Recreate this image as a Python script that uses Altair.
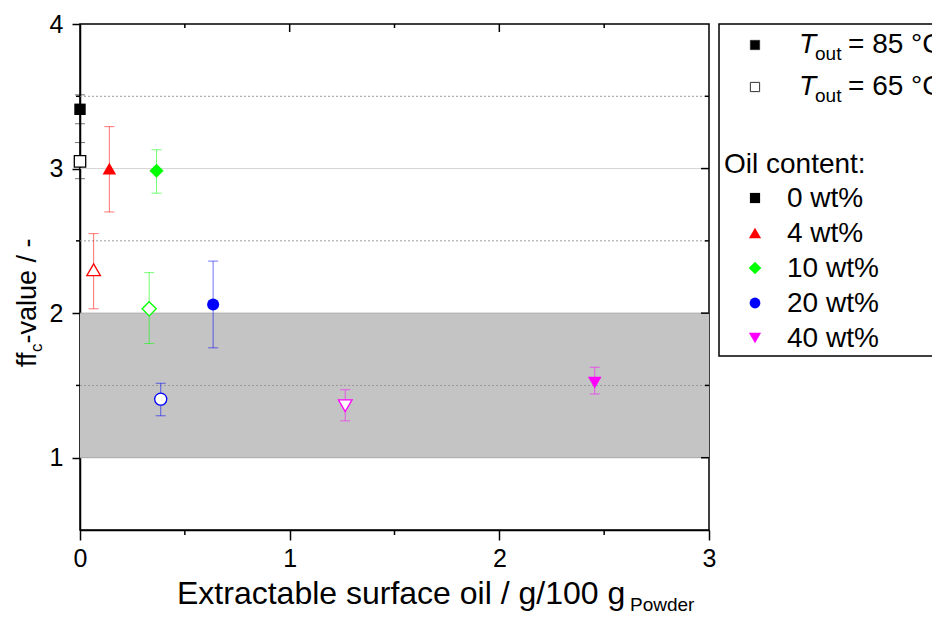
import altair as alt
import pandas as pd

# ---------------- data ----------------
oil_levels = ["0 wt%", "4 wt%", "10 wt%", "20 wt%", "40 wt%"]
oil_colors = ["#000000", "#ff0000", "#00ff00", "#0000ff", "#ff00ff"]
oil_shapes = ["square", "triangle-up", "diamond", "circle", "triangle-down"]
oil_sizes = [130, 185, 200, 145, 185]

sample_oil = ["0 wt%", "0 wt%", "4 wt%", "4 wt%", "10 wt%", "10 wt%",
              "20 wt%", "20 wt%", "40 wt%", "40 wt%"]
sample_tout = ["85", "65", "85", "65", "85", "65", "85", "65", "85", "65"]
surface_oil = [0.0, 0.0, 0.14, 0.065, 0.365, 0.33, 0.635, 0.385, 2.455, 1.265]
ffc = [3.41, 3.05, 3.0, 2.30, 2.985, 2.03, 2.06, 1.405, 1.52, 1.36]
ffc_low = [3.31, 2.93, 2.70, 2.03, 2.83, 1.79, 1.76, 1.29, 1.44, 1.255]
ffc_high = [3.51, 3.18, 3.29, 2.55, 3.13, 2.28, 2.36, 1.515, 1.625, 1.47]

tout_labels = ["85", "65"]
x_ticks = [0, 1, 2, 3]
x_minor = [0.5, 1.5, 2.5]
x_inner_major = [1, 2]
y_ticks = [1, 2, 3, 4]
y_minor = [1.5, 2.5, 3.5]
y_inner_major = [1, 2, 3]
band_range = [1, 2]
grid_solid = [3]
grid_dotted = [1.5, 2.5, 3.5]

W, H = 629, 506
FONT = "Liberation Sans"

df = pd.DataFrame({"oil": sample_oil, "tout": sample_tout, "x": surface_oil,
                   "y": ffc, "lo": ffc_low, "hi": ffc_high})

X_SCALE = alt.Scale(domain=[0, 3], nice=False, zero=False)
Y_SCALE = alt.Scale(domain=[0.5, 4], nice=False, zero=False)
X_AXIS = alt.Axis(values=x_ticks, title=None, grid=False, tickSize=10, labelPadding=6,
                  format="d", labelFlush=False, labelOverlap=False)
Y_AXIS = alt.Axis(values=y_ticks, title=None, grid=False, tickSize=8, labelPadding=9,
                  format="d", labelFlush=False, labelOverlap=False)


def XF(f):
    return alt.X(f, type="quantitative", scale=X_SCALE, axis=X_AXIS)


def YF(f):
    return alt.Y(f, type="quantitative", scale=Y_SCALE, axis=Y_AXIS)


COLOR = alt.Color("oil:N", scale=alt.Scale(domain=oil_levels, range=oil_colors), legend=None)
SHAPE = alt.Shape("oil:N", scale=alt.Scale(domain=oil_levels, range=oil_shapes), legend=None)
SIZE = alt.Size("oil:O", scale=alt.Scale(type="ordinal", domain=oil_levels, range=oil_sizes), legend=None)

one = pd.DataFrame({"a": [0]})
layers = []

# grey band
band_df = pd.DataFrame({"lo": [band_range[0]], "hi": [band_range[1]]})
layers.append(alt.Chart(band_df).mark_rect(color="#c4c4c4").encode(
    x=alt.value(0), x2=alt.value(W), y=YF("lo"), y2=alt.Y2("hi")))

# grid lines
layers.append(alt.Chart(pd.DataFrame({"v": grid_solid})).mark_rule(color="#d4d4d4", strokeWidth=1).encode(
    x=alt.value(0), x2=alt.value(W), y=YF("v")))
layers.append(alt.Chart(pd.DataFrame({"v": band_range})).mark_rule(color="#a8a8a8", strokeWidth=1).encode(
    x=alt.value(0), x2=alt.value(W), y=YF("v")))
layers.append(alt.Chart(pd.DataFrame({"v": grid_dotted})).mark_rule(color="#9a9a9a", strokeWidth=1, strokeDash=[2, 2]).encode(
    x=alt.value(0), x2=alt.value(W), y=YF("v")))

# manual minor / mirrored ticks
TK = dict(color="black", strokeWidth=1.5)
layers.append(alt.Chart(pd.DataFrame({"v": y_minor})).mark_rule(**TK).encode(
    x=alt.value(-4), x2=alt.value(0), y=YF("v")))
layers.append(alt.Chart(pd.DataFrame({"v": y_minor})).mark_rule(**TK).encode(
    x=alt.value(W - 4), x2=alt.value(W), y=YF("v")))
layers.append(alt.Chart(pd.DataFrame({"v": y_inner_major})).mark_rule(**TK).encode(
    x=alt.value(W - 8), x2=alt.value(W), y=YF("v")))
layers.append(alt.Chart(pd.DataFrame({"v": x_minor})).mark_rule(**TK).encode(
    y=alt.value(H), y2=alt.value(H + 5), x=XF("v")))
layers.append(alt.Chart(pd.DataFrame({"v": x_minor})).mark_rule(**TK).encode(
    y=alt.value(0), y2=alt.value(4), x=XF("v")))
layers.append(alt.Chart(pd.DataFrame({"v": x_inner_major})).mark_rule(**TK).encode(
    y=alt.value(0), y2=alt.value(8), x=XF("v")))

# error bars
layers.append(alt.Chart(df).mark_rule(strokeWidth=1, opacity=0.55).encode(
    x=XF("x"), y=YF("lo"), y2=alt.Y2("hi"), color=COLOR))
layers.append(alt.Chart(df).mark_tick(orient="horizontal", size=10, thickness=1, opacity=0.55).encode(
    x=XF("x"), y=YF("lo"), color=COLOR))
layers.append(alt.Chart(df).mark_tick(orient="horizontal", size=10, thickness=1, opacity=0.55).encode(
    x=XF("x"), y=YF("hi"), color=COLOR))

# points
layers.append(alt.Chart(df).transform_filter(alt.datum.tout == "85").mark_point(
    filled=True, opacity=1).encode(x=XF("x"), y=YF("y"), color=COLOR, shape=SHAPE, size=SIZE))
layers.append(alt.Chart(df).transform_filter(alt.datum.tout == "65").mark_point(
    filled=False, fill="white", fillOpacity=1, opacity=1, strokeWidth=1.3).encode(
    x=XF("x"), y=YF("y"), color=COLOR, shape=SHAPE, size=SIZE))

# axis titles (with subscripts)
TXT = dict(font=FONT, color="black")
layers.append(alt.Chart(one).mark_text(text="ff", fontSize=27, angle=270, align="left", baseline="alphabetic", **TXT).encode(
    x=alt.value(-44), y=alt.value(343)))
layers.append(alt.Chart(one).mark_text(text="c", fontSize=17, angle=270, align="left", baseline="alphabetic", **TXT).encode(
    x=alt.value(-38), y=alt.value(328)))
layers.append(alt.Chart(one).mark_text(text="-value / -", fontSize=27, angle=270, align="left", baseline="alphabetic", **TXT).encode(
    x=alt.value(-44), y=alt.value(319.5)))
layers.append(alt.Chart(one).mark_text(text="Extractable surface oil / g/100 g", fontSize=32, align="left", baseline="alphabetic", **TXT).encode(
    x=alt.value(97), y=alt.value(580)))
layers.append(alt.Chart(one).mark_text(text="Powder", fontSize=19, align="left", baseline="alphabetic", **TXT).encode(
    x=alt.value(550), y=alt.value(587)))

# legend box
LX = 639
layers.append(alt.Chart(one).mark_rect(fill="white", stroke="black", strokeWidth=1.5).encode(
    x=alt.value(LX), x2=alt.value(LX + 300), y=alt.value(0), y2=alt.value(332)))

# legend: temperature rows
for i, t in enumerate(tout_labels):
    yc = 21 + 42 * i
    filled = (i == 0)
    layers.append(alt.Chart(one).mark_point(
        shape="square", size=85, filled=True, opacity=1,
        fill="black" if filled else "white", stroke="#333333", strokeWidth=1).encode(
        x=alt.value(675), y=alt.value(yc)))
    layers.append(alt.Chart(one).mark_text(text="T", fontSize=28, fontStyle="italic", align="left", baseline="middle", **TXT).encode(
        x=alt.value(719), y=alt.value(yc)))
    layers.append(alt.Chart(one).mark_text(text="out", fontSize=19, align="left", baseline="middle", **TXT).encode(
        x=alt.value(735), y=alt.value(yc + 9)))
    layers.append(alt.Chart(one).mark_text(text=f"= {t} °C", fontSize=28, align="left", baseline="middle", **TXT).encode(
        x=alt.value(768), y=alt.value(yc)))

layers.append(alt.Chart(one).mark_text(text="Oil content:", fontSize=28, align="left", baseline="middle", **TXT).encode(
    x=alt.value(644), y=alt.value(141)))

for i, (lab, col, shp, sz) in enumerate(zip(oil_levels, oil_colors, oil_shapes, oil_sizes)):
    yc = 175 + 35 * i
    layers.append(alt.Chart(one).mark_point(shape=shp, size=sz * 0.8, filled=True, opacity=1, color=col).encode(
        x=alt.value(675), y=alt.value(yc - 1)))
    layers.append(alt.Chart(one).mark_text(text=lab, fontSize=28, align="left", baseline="middle", **TXT).encode(
        x=alt.value(707), y=alt.value(yc)))

chart = alt.layer(*layers).properties(
    width=W, height=H,
    autosize=alt.AutoSizeParams(type="none"),
    padding={"left": 72, "top": 16, "right": 223, "bottom": 81},
).configure_view(
    stroke="black", strokeWidth=1.5
).configure_axis(
    labelFont=FONT, labelFontSize=25, labelColor="black",
    tickColor="black", tickWidth=1.5, domainColor="black", domainWidth=1.5,
)

chart.save("out.html", embed_options={"renderer": "svg", "actions": False})
